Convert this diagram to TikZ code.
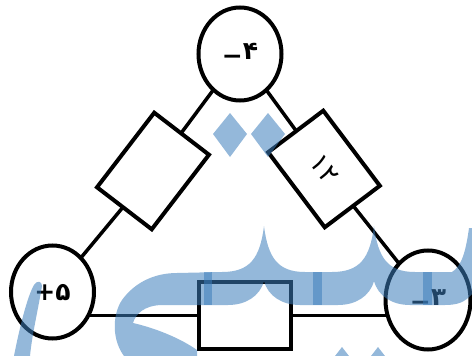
\documentclass[tikz,border=0pt]{standalone}
\usepackage{fontspec}
\newfontfamily\fafont{DejaVu Sans}
\usepackage{tikz}
\usetikzlibrary{shapes.geometric}
\usetikzlibrary{backgrounds}
\definecolor{wmblue}{RGB}{60,125,187}

\begin{document}
\begin{tikzpicture}[x=1pt,y=-1pt,
   vertex/.style={ellipse,draw,line width=4pt,fill=white,inner sep=0pt,
      minimum width=83pt,minimum height=93pt,
      font=\fafont\bfseries\fontsize{25}{25}\selectfont},
   element/.style={rectangle,draw,line width=4pt,fill=white,inner sep=0pt,
      minimum width=94pt,minimum height=69pt},
   wire/.style={line width=3.5pt},
   wmark/.style={fill=wmblue,fill opacity=0.55}]
   \useasboundingbox (0,0) rectangle (472,356);
   % charges at the corners
   \node[vertex] (top) at (240,54) {\raisebox{-5pt}{−}۴};
   \node[vertex] (left) at (52.5,292) {\raisebox{-8pt}[0pt][0pt]{+۵}};
   \node[vertex,minimum width=85pt,minimum height=99pt] (right) at (428,300) {\raisebox{-5pt}{−}۳};
   % elements on the sides
   \node[element,rotate=52.5] (lres) at (153,171) {};
   \node[element,rotate=-53,font=\fafont\fontsize{27}{27}\selectfont] (rres) at (324,169) {۱۲};
   \node[element,minimum width=92pt,minimum height=67pt] (bres) at (245,315) {};
   \begin{scope}[on background layer]
      \draw[wire] (top.center) -- (lres.center) -- (left.center);
      \draw[wire] (top.center) -- (rres.center) -- (right.center);
      \draw[wire,line width=3pt] (left.center |- bres.center) -- (bres.center) -- (bres.center -| right.center);
   \end{scope}
   % watermark
   \begin{scope}
      \clip (0,0) rectangle (472,356);
      \fill[wmark] (177,273) -- (222,272) .. controls (250,272) and (260,258) .. (264,226)
         .. controls (268,258) and (278,272) .. (305,272) -- (332,272)
         .. controls (360,272) and (370,258) .. (374,226)
         .. controls (378,258) and (388,272) .. (415,272) -- (452,272)
         .. controls (462,266) and (466,250) .. (469,228) -- (472,228) -- (472,294)
         .. controls (465,302) and (458,305) .. (445,305) -- (410,305)
         .. controls (392,305) and (378,296) .. (374,281)
         .. controls (370,296) and (356,305) .. (338,305) -- (300,305)
         .. controls (282,305) and (268,296) .. (264,281)
         .. controls (260,296) and (246,305) .. (228,305) -- (160,305)
         .. controls (145,306) and (136,313) .. (133,323)
         .. controls (155,328) and (180,338) .. (197,350) -- (197,356) -- (124,356)
         .. controls (112,340) and (112,315) .. (122,300)
         .. controls (135,282) and (155,273) .. (177,273) -- cycle;
      \fill[wmark] (204,272) rectangle (212,305);
      \fill[wmark] (313,272) rectangle (322,305);
      \fill[wmark] (423,272) rectangle (432,305);
      \fill[wmark] (14,356) .. controls (20,325) and (28,295) .. (34,285)
         .. controls (37,280) and (42,281) .. (42,286)
         .. controls (38,310) and (32,335) .. (30,356) -- cycle;
      \fill[wmark] (213,134) -- (230,113) -- (247,134) -- (230,157) -- cycle;
      \fill[wmark] (251,134) -- (268,113) -- (285,134) -- (268,157) -- cycle;
      \fill[wmark] (325,369) -- (342,347) -- (359,369) -- (342,391) -- cycle;
      \fill[wmark] (361,369) -- (378,347) -- (395,369) -- (378,391) -- cycle;
   \end{scope}
\end{tikzpicture}
\end{document}
